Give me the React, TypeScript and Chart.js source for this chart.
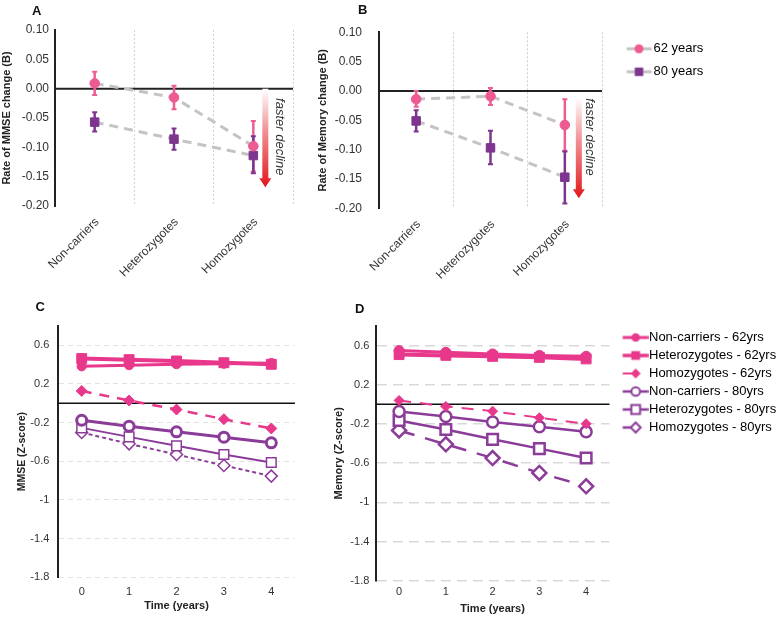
import React, { useEffect, useRef } from 'react';
import { Chart, registerables } from 'chart.js';

Chart.register(...registerables);

const FONT = "'Liberation Sans', Arial, Helvetica, sans-serif";
Chart.defaults.font.family = FONT;
Chart.defaults.color = '#333';

// ---------- Panels A & B : rate of change by genotype ----------
const genotypes = ['Non-carriers', 'Heterozygotes', 'Homozygotes'];
const ageGroups = ['62 years', '80 years'];
const rateTicks = [0.1, 0.05, 0, -0.05, -0.1, -0.15, -0.2];

const mmseRate62 = [0.009, -0.015, -0.098];
const mmseRate62Low = [-0.011, -0.035, -0.141];
const mmseRate62High = [0.029, 0.005, -0.055];
const mmseRate80 = [-0.057, -0.086, -0.114];
const mmseRate80Low = [-0.073, -0.104, -0.144];
const mmseRate80High = [-0.04, -0.068, -0.081];

const memRate62 = [-0.014, -0.009, -0.058];
const memRate62Low = [-0.027, -0.024, -0.102];
const memRate62High = [0.0, 0.005, -0.014];
const memRate80 = [-0.051, -0.097, -0.147];
const memRate80Low = [-0.069, -0.125, -0.192];
const memRate80High = [-0.033, -0.068, -0.103];

// ---------- Panels C & D : trajectories over time ----------
const years = ['0', '1', '2', '3', '4'];
const zTicks = [0.6, 0.2, -0.2, -0.6, -1, -1.4, -1.8];
const seriesLabels = [
  'Non-carriers - 62yrs',
  'Heterozygotes - 62yrs',
  'Homozygotes - 62yrs',
  'Non-carriers - 80yrs',
  'Heterozygotes - 80yrs',
  'Homozygotes - 80yrs',
];

const mmseNon62 = [0.383, 0.395, 0.405, 0.41, 0.417];
const mmseHet62 = [0.463, 0.452, 0.438, 0.42, 0.404];
const mmseHom62 = [0.128, 0.029, -0.064, -0.164, -0.26];
const mmseNon80 = [-0.175, -0.237, -0.295, -0.35, -0.409];
const mmseHet80 = [-0.254, -0.347, -0.44, -0.529, -0.612];
const mmseHom80 = [-0.302, -0.419, -0.529, -0.643, -0.753];

const memNon62 = [0.549, 0.532, 0.515, 0.5, 0.491];
const memHet62 = [0.508, 0.5, 0.49, 0.48, 0.464];
const memHom62 = [0.04, -0.021, -0.069, -0.137, -0.198];
const memNon80 = [-0.072, -0.123, -0.181, -0.228, -0.279];
const memHet80 = [-0.164, -0.256, -0.357, -0.452, -0.548];
const memHom80 = [-0.266, -0.408, -0.548, -0.7, -0.836];

// ---------- colours ----------
const PINK_A = '#ee5b93';
const PURPLE_A = '#7d358f';
const GRAY_LINE = '#c4c4c4';
const PINK = '#e8388c';
const PURPLE = '#8b3c98';

type Marker = { style: string; r: number; fill: string; stroke: string; bw: number };

function makeIcon(w: number, h: number, x1: number, x2: number, mx: number, lineColor: string, lineWidth: number, dash: number[], m: Marker) {
  const c = document.createElement('canvas');
  c.width = w;
  c.height = h;
  const ctx = c.getContext('2d') as CanvasRenderingContext2D;
  const cy = h / 2;
  ctx.strokeStyle = lineColor;
  ctx.lineWidth = lineWidth;
  ctx.setLineDash(dash);
  ctx.beginPath();
  ctx.moveTo(x1, cy);
  ctx.lineTo(x2, cy);
  ctx.stroke();
  ctx.setLineDash([]);
  ctx.beginPath();
  if (m.style === 'circle') ctx.arc(mx, cy, m.r, 0, Math.PI * 2);
  else if (m.style === 'rect') {
    const s = m.r * Math.SQRT1_2;
    ctx.rect(mx - s, cy - s, 2 * s, 2 * s);
  } else {
    ctx.moveTo(mx, cy - m.r);
    ctx.lineTo(mx + m.r, cy);
    ctx.lineTo(mx, cy + m.r);
    ctx.lineTo(mx - m.r, cy);
    ctx.closePath();
  }
  ctx.fillStyle = m.fill;
  ctx.fill();
  if (m.bw > 0) {
    ctx.lineWidth = m.bw;
    ctx.strokeStyle = m.stroke;
    ctx.stroke();
  }
  return c;
}

// ---------- plugins ----------
const zeroLinePlugin = {
  id: 'zeroLine',
  beforeDatasetsDraw(chart: any, _a: any, opts: any) {
    if (!opts || !opts.display) return;
    const { ctx, chartArea } = chart;
    const y = chart.scales.y.getPixelForValue(0);
    ctx.save();
    ctx.strokeStyle = opts.color;
    ctx.lineWidth = opts.width;
    ctx.beginPath();
    ctx.moveTo(chartArea.left, y);
    ctx.lineTo(chartArea.right, y);
    ctx.stroke();
    ctx.restore();
  },
};

// the legend keeps a narrow layout slot; let it draw past that slot to the canvas edge
const legendRoomPlugin = {
  id: 'legendRoom',
  beforeDraw(chart: any) {
    const lg = chart.legend;
    if (lg && lg.options && lg.options.display) {
      lg.right = chart.width;
      lg.width = lg.right - lg.left;
    }
  },
};

const errorBarPlugin = {
  id: 'errorBars',
  beforeDatasetsDraw(chart: any) {
    const { ctx } = chart;
    const ys = chart.scales.y;
    chart.data.datasets.forEach((ds: any, i: number) => {
      const eb = ds.errorBars;
      if (!eb) return;
      const meta = chart.getDatasetMeta(i);
      ctx.save();
      ctx.strokeStyle = eb.color;
      meta.data.forEach((pt: any, j: number) => {
        const x = pt.x;
        const yl = ys.getPixelForValue(eb.low[j]);
        const yh = ys.getPixelForValue(eb.high[j]);
        ctx.lineWidth = 2.5;
        ctx.beginPath();
        ctx.moveTo(x, yl);
        ctx.lineTo(x, yh);
        ctx.stroke();
        ctx.lineWidth = 2;
        ctx.beginPath();
        ctx.moveTo(x - 2.5, yl);
        ctx.lineTo(x + 2.5, yl);
        ctx.moveTo(x - 2.5, yh);
        ctx.lineTo(x + 2.5, yh);
        ctx.stroke();
      });
      ctx.restore();
    });
  },
};

const arrowPlugin = {
  id: 'declineArrow',
  afterDatasetsDraw(chart: any, _a: any, o: any) {
    if (!o || !o.display) return;
    const { ctx } = chart;
    const xs = chart.scales.x;
    const ys = chart.scales.y;
    const cx = xs.getPixelForValue(o.index) + o.dx;
    const y0 = ys.getPixelForValue(o.from);
    const y1 = ys.getPixelForValue(o.to);
    const g = ctx.createLinearGradient(0, y0, 0, y1);
    g.addColorStop(0, '#ffffff');
    g.addColorStop(0.45, '#f08c90');
    g.addColorStop(1, '#e3171b');
    const sw = 3, hw = 6, hh = 9;
    ctx.save();
    ctx.fillStyle = g;
    ctx.beginPath();
    ctx.moveTo(cx - sw, y0);
    ctx.lineTo(cx + sw, y0);
    ctx.lineTo(cx + sw, y1 - hh);
    ctx.lineTo(cx + hw, y1 - hh);
    ctx.lineTo(cx, y1);
    ctx.lineTo(cx - hw, y1 - hh);
    ctx.lineTo(cx - sw, y1 - hh);
    ctx.closePath();
    ctx.fill();
    ctx.translate(cx + o.textDx, ys.getPixelForValue(o.textFrom));
    ctx.rotate(Math.PI / 2);
    ctx.fillStyle = '#333';
    ctx.font = `italic 13px ${FONT}`;
    ctx.textAlign = 'left';
    ctx.textBaseline = 'middle';
    ctx.fillText(o.text, 0, 0);
    ctx.restore();
  },
};

const fmt2 = (v: number) => (Math.abs(v) < 1e-9 ? 0 : v).toFixed(2);
const fmt1 = (v: number) => String(Math.round(v * 10) / 10);

// ---------- chart builders ----------
function makeRateChart(p: any) {
  const icon62 = makeIcon(46, 16, 20.2, 45.2, 32.5, GRAY_LINE, 3, [], { style: 'circle', r: 4.5, fill: PINK_A, stroke: PINK_A, bw: 0 });
  const icon80 = makeIcon(46, 16, 20.2, 45.2, 32.5, GRAY_LINE, 3, [], { style: 'rect', r: 6, fill: PURPLE_A, stroke: PURPLE_A, bw: 0 });
  const legendW = 30;
  return {
    type: 'line',
    data: {
      labels: genotypes,
      datasets: [
        {
          label: ageGroups[0], data: p.v62, borderColor: GRAY_LINE, borderWidth: 3, borderDash: [9, 6],
          pointStyle: 'circle', pointRadius: 4.8, pointBackgroundColor: PINK_A, pointBorderColor: PINK_A, pointBorderWidth: 1,
          errorBars: { low: p.lo62, high: p.hi62, color: PINK_A }, legendIcon: icon62,
        },
        {
          label: ageGroups[1], data: p.v80, borderColor: GRAY_LINE, borderWidth: 3, borderDash: [9, 6],
          pointStyle: 'rect', pointRadius: 6, pointBackgroundColor: PURPLE_A, pointBorderColor: PURPLE_A, pointBorderWidth: 1,
          errorBars: { low: p.lo80, high: p.hi80, color: PURPLE_A }, legendIcon: icon80,
        },
      ],
    },
    options: {
      responsive: false,
      animation: false,
      events: [],
      layout: {
        padding: { top: p.areaTop, left: 0, bottom: 0, right: p.width - p.areaRight - (p.legend ? legendW : 0) },
      },
      scales: {
        x: {
          type: 'category',
          offset: true,
          grid: { display: true, drawTicks: false, color: '#d2d2d2', lineWidth: 1, offset: true },
          border: { display: false, dash: [2, 2] },
          ticks: { color: '#333', font: { size: 12 }, minRotation: 45, maxRotation: 45, padding: p.xPad, labelOffset: 2.5, autoSkip: false },
          afterFit: (s: any) => { s.height = p.height - p.areaBottom; },
        },
        y: {
          min: -0.2,
          max: 0.1,
          afterBuildTicks: (s: any) => { s.ticks = [...rateTicks].sort((a, b) => a - b).map((v) => ({ value: v })); },
          grid: { display: false, drawTicks: false },
          border: { display: true, color: '#222', width: 2 },
          ticks: { color: '#333', font: { size: 12 }, padding: p.tickPad, callback: (v: any) => fmt2(Number(v)) },
          title: { display: true, text: p.yTitle, color: '#222', font: { size: 11, weight: 'bold' }, padding: { top: p.titlePad, bottom: 0 } },
          afterFit: (s: any) => { s.width = p.areaLeft; },
        },
      },
      plugins: {
        tooltip: { enabled: false },
        legend: {
          display: !!p.legend,
          position: 'right',
          align: 'start',
          fullSize: false,
          maxWidth: legendW,
          labels: {
            usePointStyle: true,
            pointStyleWidth: 35,
            padding: 10,
            color: '#222',
            font: { size: 13 },
            generateLabels: (chart: any) => chart.data.datasets.map((ds: any, i: number) => ({
              text: ds.label, pointStyle: ds.legendIcon, fillStyle: 'rgba(0,0,0,0)', strokeStyle: 'rgba(0,0,0,0)',
              lineWidth: 0, hidden: false, datasetIndex: i,
            })),
          },
        },
        zeroLine: { display: true, color: '#222', width: 2 },
        declineArrow: { display: true, text: 'faster decline', ...p.arrow },
      },
    },
    plugins: [zeroLinePlugin, errorBarPlugin, arrowPlugin, legendRoomPlugin],
  } as any;
}

type SeriesStyle = { color: string; width: number; dash: number[]; point: string; r: number; fill: string; bw: number };

const stylesC: SeriesStyle[] = [
  { color: PINK, width: 3, dash: [], point: 'circle', r: 4.6, fill: PINK, bw: 1 },
  { color: PINK, width: 4, dash: [], point: 'rect', r: 7, fill: PINK, bw: 1 },
  { color: PINK, width: 2.5, dash: [10, 8], point: 'rectRot', r: 5.5, fill: PINK, bw: 1 },
  { color: PURPLE, width: 3, dash: [], point: 'circle', r: 5, fill: '#fff', bw: 3 },
  { color: PURPLE, width: 2, dash: [], point: 'rect', r: 6.8, fill: '#fff', bw: 1.5 },
  { color: PURPLE, width: 2, dash: [4, 3], point: 'rectRot', r: 6, fill: '#fff', bw: 1.5 },
];
const stylesD: SeriesStyle[] = [
  { color: PINK, width: 3, dash: [], point: 'circle', r: 5, fill: PINK, bw: 1 },
  { color: PINK, width: 4, dash: [], point: 'rect', r: 7, fill: PINK, bw: 1 },
  { color: PINK, width: 2, dash: [12, 9], point: 'rectRot', r: 5, fill: PINK, bw: 1 },
  { color: PURPLE, width: 2.5, dash: [], point: 'circle', r: 5.5, fill: '#fff', bw: 2.5 },
  { color: PURPLE, width: 2.5, dash: [], point: 'rect', r: 7.5, fill: '#fff', bw: 2.5 },
  { color: PURPLE, width: 2.5, dash: [16, 11], point: 'rectRot', r: 7, fill: '#fff', bw: 2.5 },
];

function makeZChart(p: any) {
  const datasets = p.series.map((data: number[], i: number) => {
    const st: SeriesStyle = p.styles[i];
    return {
      label: seriesLabels[i], data, borderColor: st.color, borderWidth: st.width, borderDash: st.dash,
      pointStyle: st.point, pointRadius: st.r, pointBackgroundColor: st.fill, pointBorderColor: st.color,
      pointBorderWidth: st.bw, style: st,
    };
  });
  const legendW = 20;
  return {
    type: 'line',
    data: { labels: years, datasets },
    options: {
      responsive: false,
      animation: false,
      events: [],
      layout: {
        padding: { top: p.areaTop, left: 0, bottom: 0, right: p.width - p.areaRight - (p.legend ? legendW : 0) },
      },
      scales: {
        x: {
          type: 'category',
          offset: true,
          grid: { display: false, drawTicks: false },
          border: { display: false },
          ticks: { color: '#333', font: { size: 11 }, padding: p.xPad, maxRotation: 0 },
          title: { display: true, text: 'Time (years)', color: '#222', font: { size: 11, weight: 'bold' }, padding: { top: 0, bottom: p.xTitlePad } },
          afterFit: (s: any) => { s.height = p.height - p.areaBottom; },
        },
        y: {
          min: -1.8,
          max: 0.8,
          afterBuildTicks: (s: any) => { s.ticks = [...zTicks].sort((a, b) => a - b).map((v) => ({ value: v })); },
          grid: { display: true, drawTicks: false, color: p.gridColor, lineWidth: p.gridWidth },
          border: { display: true, color: '#222', width: 2, dash: p.gridDash },
          ticks: { color: '#333', font: { size: 11 }, padding: p.tickPad, callback: (v: any) => fmt1(Number(v)) },
          title: { display: true, text: p.yTitle, color: '#222', font: { size: p.yTitleSize, weight: 'bold' }, padding: { top: p.titlePad, bottom: 0 } },
          afterFit: (s: any) => { s.width = p.areaLeft; },
        },
      },
      plugins: {
        tooltip: { enabled: false },
        legend: {
          display: !!p.legend,
          position: 'right',
          align: 'start',
          fullSize: false,
          maxWidth: legendW,
          labels: {
            usePointStyle: true,
            pointStyleWidth: 28,
            padding: 5,
            color: '#222',
            font: { size: 13 },
            generateLabels: (chart: any) => chart.data.datasets.map((ds: any, i: number) => {
              const st: SeriesStyle = ds.style;
              const dashed = st.dash.length > 0;
              const icon = makeIcon(40, 16, 14.2, dashed ? 24.5 : 39.8, 27.2, st.color, Math.min(st.width, 3.5), [],
                { style: st.point, r: st.point === 'rect' ? 6.2 : st.point === 'circle' ? 4.3 : 5, fill: st.fill, stroke: st.color, bw: st.fill === '#fff' ? 2 : 0 });
              return {
                text: ds.label, pointStyle: icon, fillStyle: 'rgba(0,0,0,0)', strokeStyle: 'rgba(0,0,0,0)',
                lineWidth: 0, hidden: false, datasetIndex: i,
              };
            }),
          },
        },
        zeroLine: { display: true, color: '#111', width: 1.5 },
      },
    },
    plugins: [zeroLinePlugin, legendRoomPlugin],
  } as any;
}

const makeA = () => makeRateChart({
  width: 300, height: 290, areaLeft: 55, areaTop: 30, areaRight: 296, areaBottom: 206,
  yTitle: 'Rate of MMSE change (B)', titlePad: 0.6, tickPad: 6, xPad: 9, legend: false,
  v62: mmseRate62, lo62: mmseRate62Low, hi62: mmseRate62High,
  v80: mmseRate80, lo80: mmseRate80Low, hi80: mmseRate80High,
  arrow: { index: 2, dx: 12, from: 0, to: -0.168, textDx: 14, textFrom: -0.016 },
});

const makeB = () => makeRateChart({
  width: 476, height: 290, areaLeft: 79, areaTop: 32.3, areaRight: 302, areaBottom: 208.3,
  yTitle: 'Rate of Memory change (B)', titlePad: 16.4, tickPad: 17, xPad: 9, legend: true,
  v62: memRate62, lo62: memRate62Low, hi62: memRate62High,
  v80: memRate80, lo80: memRate80Low, hi80: memRate80High,
  arrow: { index: 2, dx: 14, from: -0.011, to: -0.183, textDx: 11, textFrom: -0.0125 },
});

const makeC = () => makeZChart({
  width: 320, height: 327, areaLeft: 58, areaTop: 36, areaRight: 295, areaBottom: 287.3,
  yTitle: 'MMSE (Z-score)', yTitleSize: 10.5, titlePad: 15.5, tickPad: 8.7, xPad: 8.4, xTitlePad: 4.7,
  gridColor: '#e2e2e2', gridDash: [5, 4], gridWidth: 1, legend: false,
  series: [mmseNon62, mmseHet62, mmseHom62, mmseNon80, mmseHet80, mmseHom80], styles: stylesC,
});

const makeD = () => makeZChart({
  width: 456, height: 327, areaLeft: 55.7, areaTop: 36, areaRight: 289.5, areaBottom: 290.7,
  yTitle: 'Memory (Z-score)', yTitleSize: 11, titlePad: 12.4, tickPad: 6.4, xPad: 5, xTitlePad: 1.4,
  gridColor: '#d9d9d9', gridDash: [10, 6], gridWidth: 1.5, legend: true,
  series: [memNon62, memHet62, memHom62, memNon80, memHet80, memHom80], styles: stylesD,
});

function ChartBox({ left, top, width, height, make }: { left: number; top: number; width: number; height: number; make: () => any }) {
  const ref = useRef<HTMLCanvasElement>(null);
  useEffect(() => {
    const chart = new Chart(ref.current as HTMLCanvasElement, make());
    return () => chart.destroy();
  }, []);
  return (
    <div style={{ position: 'absolute', left, top, width, height }}>
      <canvas ref={ref} width={width} height={height} style={{ width, height, display: 'block' }} />
    </div>
  );
}

const letterStyle = (left: number, top: number): React.CSSProperties => ({
  position: 'absolute', left, top, fontFamily: FONT, fontWeight: 'bold', fontSize: 13, lineHeight: '13px', color: '#111',
});

export default function App() {
  return (
    <div style={{ position: 'absolute', left: 0, top: 0, width: 776, height: 617, overflow: 'hidden', background: '#fff' }}>
      <ChartBox left={0} top={0} width={300} height={290} make={makeA} />
      <ChartBox left={300} top={0} width={476} height={290} make={makeB} />
      <ChartBox left={0} top={290} width={320} height={327} make={makeC} />
      <ChartBox left={320} top={290} width={456} height={327} make={makeD} />
      <div style={letterStyle(32, 4)}>A</div>
      <div style={letterStyle(358, 3)}>B</div>
      <div style={letterStyle(35.5, 299.5)}>C</div>
      <div style={letterStyle(355, 302)}>D</div>
    </div>
  );
}
